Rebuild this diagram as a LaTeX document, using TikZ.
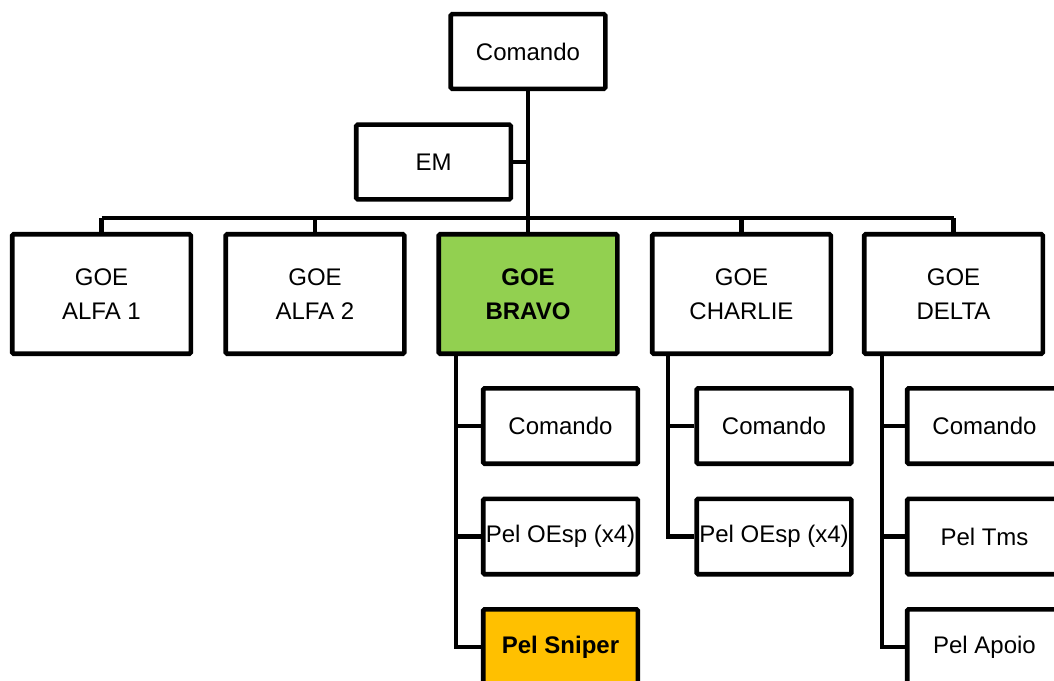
\documentclass[tikz,border=0pt]{standalone}
\usepackage{fontspec}
\setmainfont{Liberation Sans}
\pgfdeclarelayer{bg}
\pgfsetlayers{bg,main}
\definecolor{goegreen}{HTML}{92D050}
\definecolor{sniperyellow}{HTML}{FFC000}
\tikzset{
    every node/.style={rectangle, draw, line width=3.4pt, rounded corners=1pt, fill=white, align=center,
        font=\fontsize{18}{25.5}\selectfont, inner sep=0pt},
    top/.style={minimum width=115.9pt, minimum height=56pt},
    goe/.style={minimum width=133.9pt, minimum height=89.6pt},
    sub/.style={minimum width=115.9pt, minimum height=56.6pt},
    boldtext/.style={font=\fontsize{18}{25.5}\selectfont\bfseries},
    link/.style={line width=3.4pt}
}

\begin{document}
\begin{tikzpicture}[x=0.75pt, y=-0.75pt, line width=3.4pt]
        \useasboundingbox (0,0) rectangle (1054,681);
        \clip (0,0) rectangle (1054,681);
        \node (c0) [top] at (528, 51.5) {Comando};
        \node (em) [top] at (433.5, 162) {EM};
        \node (g1) [goe] at (101.5, 294) {GOE\\ALFA 1};
        \node (g2) [goe] at (315, 294) {GOE\\ALFA 2};
        \node (g3) [goe, fill=goegreen, boldtext] at (528, 294) {GOE\\BRAVO};
        \node (g4) [goe] at (741.5, 294) {GOE\\CHARLIE};
        \node (g5) [goe] at (953.5, 294) {GOE\\DELTA};
        \node (b1) [sub] at (560.5, 426) {Comando};
        \node (b2) [sub] at (560.5, 536.5) {Pel OEsp (x4)};
        \node (b3) [sub, fill=sniperyellow, boldtext] at (560.5, 647) {Pel Sniper};
        \node (c1) [sub] at (774, 426) {Comando};
        \node (c2) [sub] at (774, 536.5) {Pel OEsp (x4)};
        \node (d1) [sub] at (984.5, 426) {Comando};
        \node (d2) [sub] at (984.5, 536.5) {Pel Tms};
        \node (d3) [sub] at (984.5, 647) {Pel Apoio};
        \coordinate (bar) at (528, 218);
        \coordinate (bs) at (456, 355);
        \coordinate (cs) at (668, 355);
        \coordinate (ds) at (882, 355);
        \begin{pgfonlayer}{bg}
                \draw (c0) edge [link] (g3);
                \draw [link] (em.east) -- (em.east -| c0.south);
                \draw [link] (g1.north |- bar) -- (g5.north |- bar);
                \draw [link] (g1.north) -- (g1.north |- bar);
                \draw [link] (g2.north) -- (g2.north |- bar);
                \draw [link] (g4.north) -- (g4.north |- bar);
                \draw [link] (g5.north) -- (g5.north |- bar);
                \draw [link] (bs) |- (b3.west);
                \draw [link] (b1.west) -- (b1.west -| bs);
                \draw [link] (b2.west) -- (b2.west -| bs);
                \draw [link] (cs) |- (c2.west);
                \draw [link] (c1.west) -- (c1.west -| cs);
                \draw [link] (ds) |- (d3.west);
                \draw [link] (d1.west) -- (d1.west -| ds);
                \draw [link] (d2.west) -- (d2.west -| ds);
        \end{pgfonlayer}
\end{tikzpicture}
\end{document}
